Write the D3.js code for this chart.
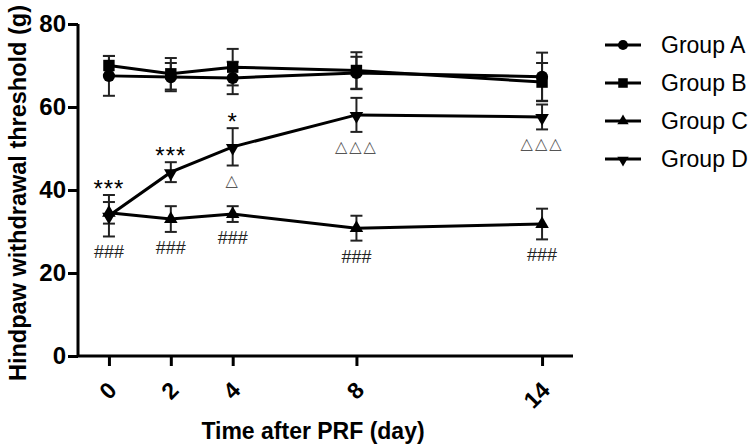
<!DOCTYPE html>
<html>
<head>
<meta charset="utf-8">
<script src="https://cdn.jsdelivr.net/npm/d3@7"></script>
<style>
  body { margin: 0; background: #fff; }
  svg { display: block; font-family: "Liberation Sans", Arial, sans-serif; }
</style>
</head>
<body>
<script>
const days = [0, 2, 4, 8, 14];
const groupNames = ["Group A", "Group B", "Group C", "Group D"];
const meanA = [67.5, 67.2, 67.0, 68.2, 67.3];
const semA = [4.8, 3.4, 3.9, 3.9, 5.8];
const meanB = [70.0, 68.0, 69.6, 68.8, 66.0];
const semB = [2.3, 3.8, 4.4, 4.4, 4.6];
const meanC = [34.5, 33.0, 34.2, 30.8, 31.8];
const semC = [2.6, 3.1, 1.9, 3.0, 3.7];
const meanD = [33.8, 44.3, 50.4, 58.1, 57.6];
const semD = [5.0, 2.4, 4.5, 4.1, 3.0];
const yTicks = [0, 20, 40, 60, 80];
const starLabels = ["***", "***", "*", "", ""];
const triLabels = ["", "", "\u25B3", "\u25B3\u25B3\u25B3", "\u25B3\u25B3\u25B3"];
const hashLabels = ["###", "###", "###", "###", "###"];

const series = [
  { name: groupNames[0], mean: meanA, sem: semA, sym: d3.symbolCircle, size: 115, rot: 0 },
  { name: groupNames[1], mean: meanB, sem: semB, sym: d3.symbolSquare, size: 130, rot: 0 },
  { name: groupNames[2], mean: meanC, sem: semC, sym: d3.symbolTriangle, size: 80, rot: 0 },
  { name: groupNames[3], mean: meanD, sem: semD, sym: d3.symbolTriangle, size: 80, rot: 180 }
];

const W = 751, H = 445;
const svg = d3.select("body").append("svg").attr("width", W).attr("height", H);

const x = d3.scaleLinear().domain([-1, 15]).range([78, 573]);
const y = d3.scaleLinear().domain([0, 80]).range([356, 24]);

// axes
const yAxis = svg.append("g").attr("transform", `translate(${x(-1)},0)`)
  .call(d3.axisLeft(y).tickValues(yTicks).tickSize(10).tickPadding(2));
yAxis.select(".domain").attr("stroke", "#000").attr("stroke-width", 3).attr("d", `M0,${y(80)}V${y(0)}`);
yAxis.selectAll(".tick line").attr("stroke", "#000").attr("stroke-width", 3);
yAxis.selectAll(".tick text").attr("font-size", 24).attr("font-weight", "bold").attr("fill", "#000");

const xAxis = svg.append("g").attr("transform", `translate(0,${y(0)})`)
  .call(d3.axisBottom(x).tickValues(days).tickSize(10).tickFormat(d3.format("d")));
xAxis.select(".domain").attr("stroke", "#000").attr("stroke-width", 3).attr("d", `M${x(-1)},0H${x(15)}`);
xAxis.selectAll(".tick line").attr("stroke", "#000").attr("stroke-width", 3);
xAxis.selectAll(".tick text")
  .attr("font-size", 23).attr("font-weight", "bold").attr("fill", "#000")
  .attr("text-anchor", "end")
  .attr("y", 0).attr("dy", "0.35em")
  .attr("transform", "translate(3,30) rotate(-45)");

// axis titles
svg.append("text")
  .attr("x", 313).attr("y", 439)
  .attr("text-anchor", "middle")
  .attr("font-size", 23).attr("font-weight", "bold")
  .text("Time after PRF (day)");

svg.append("text")
  .attr("transform", `translate(26,${(y(0) + 8) / 2 + 11}) rotate(-90)`)
  .attr("text-anchor", "middle")
  .attr("font-size", 23.5).attr("font-weight", "bold")
  .text("Hindpaw withdrawal threshold (g)");

// lines
const line = d3.line().x((d, i) => x(days[i])).y(d => y(d));
svg.append("g").selectAll("path").data(series).join("path")
  .attr("fill", "none").attr("stroke", "#000").attr("stroke-width", 3)
  .attr("d", s => line(s.mean));

// error bars
const eb = svg.append("g").attr("stroke", "#222").attr("stroke-width", 2);
series.forEach(s => {
  s.mean.forEach((m, i) => {
    const cx = x(days[i]);
    const hi = y(m + s.sem[i]), lo = y(m - s.sem[i]);
    eb.append("line").attr("x1", cx).attr("x2", cx).attr("y1", hi).attr("y2", lo);
    eb.append("line").attr("x1", cx - 6).attr("x2", cx + 6).attr("y1", hi).attr("y2", hi);
    eb.append("line").attr("x1", cx - 6).attr("x2", cx + 6).attr("y1", lo).attr("y2", lo);
  });
});

// markers
series.forEach(s => {
  svg.append("g").selectAll("path").data(s.mean).join("path")
    .attr("d", d3.symbol().type(s.sym).size(s.size))
    .attr("fill", "#000")
    .attr("transform", (d, i) => `translate(${x(days[i])},${y(d) + (s.rot ? 1 : 0)}) rotate(${s.rot})`);
});

// significance labels
svg.append("g").selectAll("text").data(starLabels).join("text")
  .attr("x", (d, i) => x(days[i]))
  .attr("y", (d, i) => y(meanD[i] + semD[i]) + 2)
  .attr("text-anchor", "middle").attr("font-size", 24).attr("letter-spacing", 1)
  .text(d => d);

svg.append("g").selectAll("text").data(triLabels).join("text")
  .attr("x", (d, i) => x(days[i]))
  .attr("y", (d, i) => y(meanD[i] - semD[i]) + 20)
  .attr("text-anchor", "middle").attr("font-size", 16).attr("letter-spacing", 2)
  .attr("fill", "#555")
  .attr("font-family", "DejaVu Sans")
  .text(d => d);

svg.append("g").selectAll("text").data(hashLabels).join("text")
  .attr("x", (d, i) => x(days[i]))
  .attr("y", (d, i) => y(Math.min(meanC[i] - semC[i], meanD[i] - semD[i])) + 22)
  .attr("text-anchor", "middle").attr("font-size", 18)
  .attr("fill", "#222")
  .text(d => d);

// legend
const leg = svg.append("g").attr("transform", "translate(605,45)");
series.forEach((s, i) => {
  const g = leg.append("g").attr("transform", `translate(0,${i * 38})`);
  g.append("line").attr("x1", 0).attr("x2", 36).attr("stroke", "#000").attr("stroke-width", 3);
  g.append("path").attr("d", d3.symbol().type(s.sym).size(s.size * 0.7)())
    .attr("transform", `translate(18,${s.rot ? 1 : 0}) rotate(${s.rot})`);
  g.append("text").attr("x", 56).attr("dy", "0.36em").attr("font-size", 23).text(s.name);
});
</script>
</body>
</html>
